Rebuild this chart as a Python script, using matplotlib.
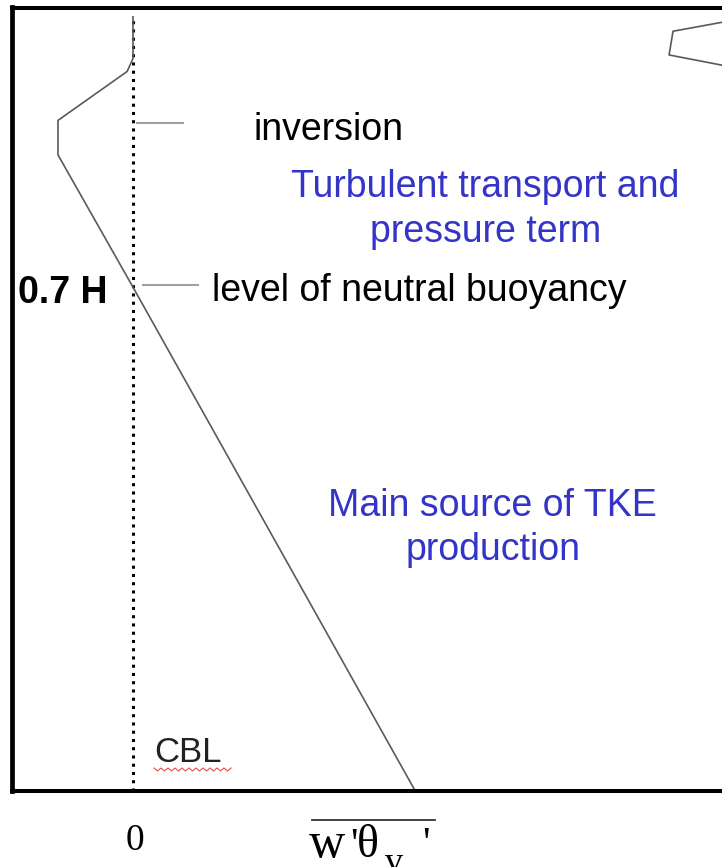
import numpy as np
import matplotlib.pyplot as plt
from matplotlib.lines import Line2D
from matplotlib.transforms import IdentityTransform

# buoyancy flux profile w'theta_v' (surface flux = 1) against height z/H
flux = [1.0, 0.0, -0.266, -0.266, -0.021, 0.0, 0.0]
height = [0.0, 0.70, 0.884, 0.932, 1.0, 1.018, 1.076]

# piece of a second curve that is cut off at the top right
flux2 = [2.152, 1.915, 1.901, 2.152]
height2 = [1.073, 1.056, 1.023, 1.004]

# short gray markers: (height, flux start, flux end)
markers = [(0.928, 0.014, 0.177), (0.703, 0.035, 0.230)]

W, H = 722, 867
fig = plt.figure(figsize=(W / 100, H / 100), dpi=100)
fig.patch.set_facecolor('white')


def px(x, y):
    # pixel position (from top left) -> figure fraction
    return x / W, 1 - y / H


left, top, bottom, right = 11.5, 7.5, 790.5, 740
ax = fig.add_axes([left / W, 1 - bottom / H, (right - left) / W, (bottom - top) / H])
ax.set_xlim((left - 133) / 282, (right - 133) / 282)
ax.set_ylim(0, (bottom - top) / 719)
ax.set_xticks([])
ax.set_yticks([])
ax.spines['right'].set_visible(False)
ax.spines['left'].set_linewidth(3.4)
ax.spines['top'].set_linewidth(2.9)
ax.spines['bottom'].set_linewidth(2.9)
ax.patch.set_alpha(0)

ax.plot([0, 0], [0, 1.076], color='black', lw=2.2, ls=(0, (1, 1.7)))
ax.plot(flux, height, color='#5a5a5a', lw=1.2)
ax.plot(flux2, height2, color='#5a5a5a', lw=1.2)
for z, x0, x1 in markers:
    ax.plot([x0, x1], [z, z], color='#a0a0a0', lw=1.5)

sans = 'Liberation Sans'
serif = 'Liberation Serif'
fs = 27
blue = '#3434c8'

fig.text(*px(253, 140), 'inversion', fontsize=fs, family=sans, color='black')
fig.text(*px(485, 197), 'Turbulent transport and', fontsize=fs, family=sans,
         color=blue, ha='center')
fig.text(*px(486, 242), 'pressure term', fontsize=fs, family=sans,
         color=blue, ha='center')
fig.text(*px(18, 303), '0.7 H', fontsize=fs, family=sans, weight='bold')
fig.text(*px(212, 301), 'level of neutral buoyancy', fontsize=fs, family=sans)
fig.text(*px(492, 516), 'Main source of TKE', fontsize=fs, family=sans,
         color=blue, ha='center')
fig.text(*px(493, 560), 'production', fontsize=fs, family=sans,
         color=blue, ha='center')
fig.text(*px(154, 762), 'CBL', fontsize=25, family=sans, color='#222222')

# red squiggle under CBL
sx = np.arange(154, 232, 3.5)
sy = np.where(np.arange(len(sx)) % 2 == 0, H - 768, H - 771)
fig.add_artist(Line2D(sx, sy, transform=IdentityTransform(), color='#e05050', lw=0.8))

# x axis labels
fig.text(*px(135, 850), '0', fontsize=fs, family=serif, ha='center')
fig.text(*px(309, 857), 'w', fontsize=36, family=serif)
fig.text(*px(350, 857), "'", fontsize=30, family=serif)
fig.text(*px(357, 857), '\u03b8', fontsize=33, family=serif)
fig.text(*px(385, 872), 'v', fontsize=26, family=serif)
fig.text(*px(422, 856), "'", fontsize=30, family=serif)
fig.add_artist(Line2D([312, 435], [H - 820, H - 820], transform=IdentityTransform(),
                      color='#333333', lw=1.3))

fig.savefig('out.png', dpi=100, facecolor='white')
